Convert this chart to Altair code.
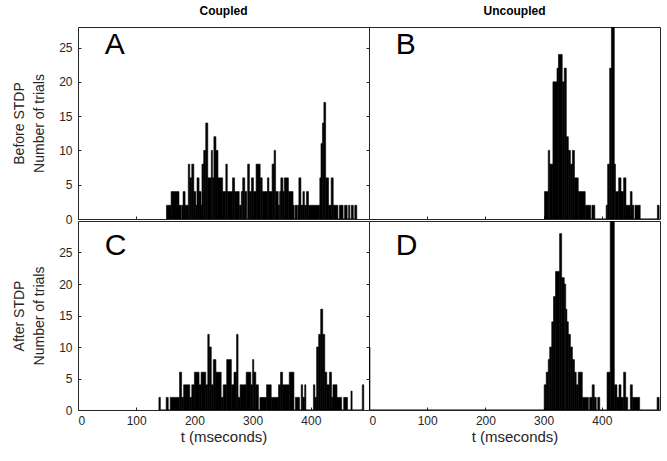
import altair as alt
import pandas as pd

# ---------------- data (histogram segments: edges in ms, counts) ----------------
A_edges = [152, 160, 173.5, 177, 178, 180.5, 184, 189.5, 192, 195.5, 199, 202.5, 204.5, 208, 211.5, 213, 216,
           219.5, 223, 229, 231, 233.5, 237, 240.5, 248.5, 254, 256.5, 265.5, 269, 277, 280.5, 283, 286.5, 290,
           291.5, 294.5, 298, 301.5, 306, 313, 316.5, 325.5, 328, 333.5, 337, 339.5, 344, 346.5, 348.5, 352,
           354.5, 361.5, 369.5, 371.5, 373, 376.5, 377.5, 379.5, 383, 386.5, 389, 392.5, 396, 415.5, 417.5, 420,
           422.5, 425.5, 430.5, 435, 438.5, 446.5, 449, 455.5, 458, 462.5, 465, 467, 469.5, 473, 475.5, 479]
A_counts = [2, 4, 2, 0, 2, 4, 2, 8, 6, 8, 4, 2, 6, 4, 2, 8, 10, 14, 6, 10, 6, 12, 10, 6, 4, 8, 4, 6, 4, 2,
            4, 6, 4, 0, 8, 4, 6, 4, 8, 6, 4, 6, 4, 8, 10, 4, 2, 4, 6, 4, 6, 4, 2, 0, 2, 0, 2, 6, 2, 4,
            2, 4, 2, 6, 11, 14, 17, 6, 2, 6, 2, 0, 2, 0, 2, 0, 2, 0, 2, 0, 2]

B_edges = [301.5, 308, 310.5, 316, 323, 325.5, 332, 335.5, 339, 342.5, 346, 349.5, 353, 359.5, 371.5, 381, 383,
           388, 407.5, 410, 413.5, 416.5, 421.5, 423.5, 429, 433, 437.5, 441.5, 449, 452, 455, 457, 466, 495.5, 498.5]
B_counts = [4, 10, 8, 20, 22, 24, 20, 22, 12, 10, 8, 10, 6, 4, 2, 0, 2, 0, 2, 8, 22, 40, 8, 4, 6, 4, 6, 2, 4, 2,
            0, 2, 0, 2]

C_edges = [139, 141.5, 151.5, 155, 158.5, 174.5, 178, 181.5, 192, 195.5, 200, 208, 211.5, 219.5, 223, 225.5, 229,
           232.5, 237, 246, 249.5, 255.5, 263.5, 268, 272.5, 275, 278.5, 289, 297, 300, 302, 305.5, 310, 312.5,
           324, 332, 344.5, 348, 351.5, 363, 371, 373.5, 380.5, 383.5, 386, 389.5, 391.5, 404.5, 407, 410, 413.5,
           417, 420.5, 424, 427.5, 432, 435.5, 438, 445, 453, 456.5, 463, 469, 471, 488.5, 491]
C_counts = [2, 0, 2, 0, 2, 6, 2, 4, 2, 4, 6, 4, 6, 4, 12, 10, 4, 8, 6, 2, 4, 8, 4, 6, 12, 2, 4, 6, 4, 8,
            6, 4, 0, 2, 4, 2, 4, 6, 4, 6, 0, 2, 0, 4, 2, 4, 0, 4, 2, 10, 12, 16, 12, 6, 4, 6, 2, 4, 2, 0,
            2, 0, 3, 0, 4]

D_edges = [0, 1.7, 301, 304.5, 308, 310.5, 314, 317, 320.5, 327.5, 331, 335.5, 338, 340, 342.5, 346, 349.5, 353,
           356, 359.5, 366.5, 377, 379, 383.5, 387, 390.5, 393, 396.5, 409, 414.5, 421.5, 426, 429.5, 433, 437.5,
           441, 444.5, 449, 452.5, 465, 495, 498.5]
D_counts = [10, 0, 4, 6, 8, 10, 14, 18, 22, 28, 21, 20, 16, 14, 12, 10, 8, 6, 4, 6, 2, 0, 2, 4, 2, 0, 2, 0, 6, 40,
            4, 2, 4, 2, 6, 2, 0, 4, 2, 0, 2]

X_TICKS = [0, 100, 200, 300, 400]
Y_TICKS = [0, 5, 10, 15, 20, 25]
COL_TITLES = ["Coupled", "Uncoupled"]
ROW_LABELS = [["Before STDP", "Number of trials"], ["After STDP", "Number of trials"]]
X_LABEL = "t (mseconds)"

FONT = "Liberation Sans"
INK = "#262626"


def seg_df(edges, counts):
    return pd.DataFrame({"start": edges[:-1], "end": edges[1:], "count": counts})


def panel(edges, counts, letter, ymax, height, letter_y, show_xlabels, ylabel, title_text):
    df = seg_df(edges, counts)
    if show_xlabels:
        xaxis = alt.Axis(title=X_LABEL, values=X_TICKS, tickSize=3, offset=-3, labelPadding=5,
                         titlePadding=3, titleFontSize=15, domain=False, grid=False, format="d")
    else:
        xaxis = alt.Axis(title=None, labels=False, values=X_TICKS, tickSize=3, offset=-3,
                         domain=False, grid=False)
    if ylabel:
        yaxis = alt.Axis(title=ylabel, values=Y_TICKS, tickSize=3, offset=-3, labelPadding=6,
                         titlePadding=12, titleLineHeight=20, domain=False, grid=False)
    else:
        yaxis = alt.Axis(title=None, labels=False, values=Y_TICKS, tickSize=3, domain=False, grid=False)

    xs = alt.Scale(domain=[0, 500], nice=False, zero=False)
    ys = alt.Scale(domain=[0, ymax], nice=False)

    bars = alt.Chart(df).mark_bar(color="black", stroke="black", strokeWidth=0.6, clip=True).encode(
        x=alt.X("start:Q", scale=xs, axis=xaxis),
        x2="end:Q",
        y=alt.Y("count:Q", scale=ys, axis=yaxis),
        y2=alt.datum(0),
    )
    lab = alt.Chart(pd.DataFrame({"t": [letter], "lx": [46], "ly": [letter_y]})).mark_text(
        align="left", baseline="alphabetic", fontSize=30, font=FONT, color="black"
    ).encode(
        x=alt.X("lx:Q", scale=xs, axis=xaxis),
        y=alt.Y("ly:Q", scale=ys, axis=yaxis),
        text="t:N",
    )
    ch = alt.layer(bars, lab).properties(width=291, height=height)
    if title_text:
        ch = ch.properties(title=alt.TitleParams(title_text))
    return ch


pA = panel(A_edges, A_counts, "A", 28, 192, 24.0, False, ROW_LABELS[0], COL_TITLES[0])
pB = panel(B_edges, B_counts, "B", 28, 192, 24.0, False, None, COL_TITLES[1])
pC = panel(C_edges, C_counts, "C", 30, 189, 24.6, True, ROW_LABELS[1], None)
pD = panel(D_edges, D_counts, "D", 30, 189, 24.6, True, None, None)

chart = alt.concat(pA, pB, pC, pD, columns=2, spacing={"row": 2, "column": 0}, bounds="flush").properties(
    padding={"left": 12, "top": 4, "right": 5, "bottom": 5}
).configure_view(
    stroke=INK, strokeWidth=1
).configure_axis(
    labelFont=FONT, labelFontSize=12, labelColor=INK, tickColor=INK,
    titleFont=FONT, titleFontSize=14, titleFontWeight="normal", titleColor=INK,
).configure_title(
    font=FONT, fontSize=12, fontWeight="bold", color="black", anchor="middle", offset=9
)

chart.save("out.html", embed_options={"renderer": "svg", "actions": False})
